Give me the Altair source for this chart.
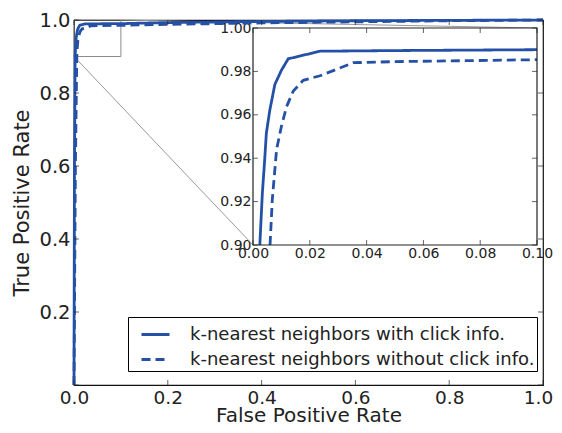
import altair as alt
import pandas as pd

# ---------------- data ----------------
series = ["k-nearest neighbors with click info.",
          "k-nearest neighbors without click info."]

with_fpr = [0.0, 0.001, 0.0024, 0.0033, 0.0041, 0.0047, 0.0059, 0.0077, 0.010,
            0.0124, 0.0236, 0.05, 0.1, 0.2, 0.4, 0.6, 0.8, 1.0]
with_tpr = [0.0, 0.6, 0.900, 0.924, 0.939, 0.9515, 0.962, 0.974, 0.9805,
            0.9858, 0.9893, 0.9896, 0.990, 0.993, 0.996, 0.998, 0.999, 1.0]

without_fpr = [0.0, 0.003, 0.006, 0.0068, 0.0083, 0.010, 0.0118, 0.0142, 0.0177,
               0.0236, 0.0295, 0.0354, 0.05, 0.1, 0.2, 0.4, 0.6, 0.8, 1.0]
without_tpr = [0.0, 0.6, 0.900, 0.921, 0.944, 0.9546, 0.9637, 0.971, 0.9759,
               0.978, 0.981, 0.984, 0.9845, 0.9854, 0.988, 0.992, 0.995, 0.998, 1.0]

main_ticks = [0.0, 0.2, 0.4, 0.6, 0.8, 1.0]
main_y_labels = [0.2, 0.4, 0.6, 0.8, 1.0]
inset_x_ticks = [0.0, 0.02, 0.04, 0.06, 0.08, 0.10]
inset_y_ticks = [0.90, 0.92, 0.94, 0.96, 0.98, 1.00]
inset_x_domain = [0.0, 0.1]
inset_y_domain = [0.9, 1.0]

# ---------------- layout / style ----------------
BLUE = "#2451a6"
W, H = 469, 365
IX_RANGE = [179, 463]
IY_RANGE = [225, 8]
FONT = "DejaVu Sans"
TXT = "#222222"

MX = alt.Scale(domain=[0, 1], nice=False, zero=False)
MY = alt.Scale(domain=[0, 1], nice=False, zero=False)
IX = alt.Scale(domain=inset_x_domain, range=IX_RANGE, nice=False, zero=False)
IY = alt.Scale(domain=inset_y_domain, range=IY_RANGE, nice=False, zero=False)


def mx(v):
    return v * W


def my(v):
    return H * (1 - v)


def ix(v):
    d0, d1 = inset_x_domain
    return IX_RANGE[0] + (v - d0) / (d1 - d0) * (IX_RANGE[1] - IX_RANGE[0])


def iy(v):
    d0, d1 = inset_y_domain
    return IY_RANGE[0] + (v - d0) / (d1 - d0) * (IY_RANGE[1] - IY_RANGE[0])


curves = pd.DataFrame({
    "fpr": with_fpr + without_fpr,
    "tpr": with_tpr + without_tpr,
    "series": [series[0]] * len(with_fpr) + [series[1]] * len(without_fpr),
    "idx": list(range(len(with_fpr))) + list(range(len(without_fpr))),
})

box = pd.DataFrame({"x0": [inset_x_domain[0]], "x1": [inset_x_domain[1]],
                    "y0": [inset_y_domain[0]], "y1": [inset_y_domain[1]]})

connectors = pd.DataFrame({
    "x": [mx(inset_x_domain[0]), mx(inset_x_domain[1])],
    "y": [my(inset_y_domain[0]), my(inset_y_domain[1])],
    "x2": [ix(inset_x_domain[0]), ix(inset_x_domain[1])],
    "y2": [iy(inset_y_domain[0]), iy(inset_y_domain[1])],
})

mt = pd.DataFrame({"v": main_ticks})
ixt = pd.DataFrame({"v": inset_x_ticks})
iyt = pd.DataFrame({"v": inset_y_ticks})

color_scale = alt.Scale(domain=series, range=[BLUE, BLUE])
dash_scale = alt.Scale(domain=series, range=[[1, 0], [9, 5]])
legend = alt.Legend(title=None, orient="none", legendX=54, legendY=297,
                    strokeColor="black", fillColor="white", padding=2,
                    cornerRadius=0, symbolType="stroke", symbolSize=784,
                    symbolOffset=10, symbolStrokeWidth=2.8, labelFontSize=18,
                    labelFont=FONT, labelColor=TXT, labelOffset=19,
                    rowPadding=-1, labelLimit=500)

# zoom rectangle on main axes
zoom_rect = alt.Chart(box).mark_rect(fillOpacity=0, stroke="#8c8c8c", strokeWidth=1).encode(
    x=alt.X("x0:Q", scale=MX, axis=None), x2="x1:Q",
    y=alt.Y("y0:Q", scale=MY, axis=None), y2="y1:Q")

conn = alt.Chart(connectors).mark_rule(color="#999999", strokeWidth=1).encode(
    x=alt.X("x:Q", scale=None, axis=None), x2="x2:Q",
    y=alt.Y("y:Q", scale=None, axis=None), y2="y2:Q")

main_lines = alt.Chart(curves).mark_line(strokeWidth=2.8).encode(
    x=alt.X("fpr:Q", scale=MX, axis=alt.Axis(
        values=main_ticks, format=".1f", title="False Positive Rate",
        ticks=False, tickSize=0, domain=False, grid=False, labelFlush=False,
        labelOverlap=False, labelPadding=3, labelFontSize=18.5, titleFontSize=20,
        labelOffset={"condition": {"test": "datum.value == 1", "value": -5}, "value": 0},
        titleY=36, titleBaseline="alphabetic",
        titleFontWeight="normal", orient="bottom")),
    y=alt.Y("tpr:Q", scale=MY, axis=alt.Axis(
        values=main_y_labels, format=".1f", title="True Positive Rate",
        ticks=False, tickSize=0, domain=False, grid=False, labelFlush=False,
        labelOverlap=False, labelPadding=4, labelFontSize=19.5, titleFontSize=21,
        titlePadding=6, titleFontWeight="normal", orient="left")),
    color=alt.Color("series:N", scale=color_scale, legend=legend),
    strokeDash=alt.StrokeDash("series:N", scale=dash_scale, legend=legend),
    order="idx:Q")

inset_bg = alt.Chart(box).mark_rect(fill="white").encode(
    x=alt.X("x0:Q", scale=IX, axis=None), x2="x1:Q",
    y=alt.Y("y0:Q", scale=IY, axis=None), y2="y1:Q")

inset_lines = alt.Chart(curves).transform_filter(
    (alt.datum.fpr <= inset_x_domain[1]) & (alt.datum.tpr >= inset_y_domain[0])
).mark_line(strokeWidth=2.8).encode(
    x=alt.X("fpr:Q", scale=IX, axis=alt.Axis(
        values=inset_x_ticks, format=".2f", title=None, ticks=False, tickSize=0,
        domain=False, grid=False, labelFlush=False, labelOverlap=False,
        labelPadding=1, labelFontSize=14, orient="bottom", offset=-(H - IY_RANGE[0]))),
    y=alt.Y("tpr:Q", scale=IY, axis=alt.Axis(
        values=inset_y_ticks, format=".2f", title=None, ticks=False, tickSize=0,
        domain=False, grid=False, labelFlush=False, labelOverlap=False,
        labelPadding=2, labelFontSize=14, orient="left", offset=-IX_RANGE[0])),
    color=alt.Color("series:N", scale=color_scale, legend=None),
    strokeDash=alt.StrokeDash("series:N", scale=dash_scale, legend=None),
    order="idx:Q")

inset_frame = alt.Chart(box).mark_rect(fillOpacity=0, stroke="#222222", strokeWidth=1.2).encode(
    x=alt.X("x0:Q", scale=IX, axis=None), x2="x1:Q",
    y=alt.Y("y0:Q", scale=IY, axis=None), y2="y1:Q")


def xticks(df, xs, ys, yval, off):
    return alt.Chart(df).mark_tick(orient="vertical", size=5, thickness=1,
                                   color="#222222", yOffset=off).encode(
        x=alt.X("v:Q", scale=xs, axis=None),
        y=alt.Y(datum=yval, type="quantitative", scale=ys, axis=None))


def yticks(df, xs, ys, xval, off):
    return alt.Chart(df).mark_tick(orient="horizontal", size=5, thickness=1,
                                   color="#222222", xOffset=off).encode(
        y=alt.Y("v:Q", scale=ys, axis=None),
        x=alt.X(datum=xval, type="quantitative", scale=xs, axis=None))


tick_layers = [
    xticks(mt, MX, MY, 0.0, -2.5), xticks(mt, MX, MY, 1.0, 2.5),
    yticks(mt, MX, MY, 0.0, 2.5), yticks(mt, MX, MY, 1.0, -2.5),
    xticks(ixt, IX, IY, inset_y_domain[0], -2.5), xticks(ixt, IX, IY, inset_y_domain[1], 2.5),
    yticks(iyt, IX, IY, inset_x_domain[0], 2.5), yticks(iyt, IX, IY, inset_x_domain[1], -2.5),
]

chart = alt.layer(
    zoom_rect, conn, main_lines, inset_bg, inset_lines, inset_frame, *tick_layers
).resolve_scale(
    x="independent", y="independent", color="independent", strokeDash="independent"
).properties(
    width=W, height=H,
    autosize=alt.AutoSizeParams(type="none"),
    padding={"left": 66, "top": 12, "right": 11, "bottom": 40},
).configure(font=FONT).configure_axis(
    labelColor=TXT, titleColor=TXT, labelFont=FONT, titleFont=FONT
).configure_view(stroke="#111111", strokeWidth=1.2)

chart.save("out.html", embed_options={"renderer": "svg", "actions": False})
